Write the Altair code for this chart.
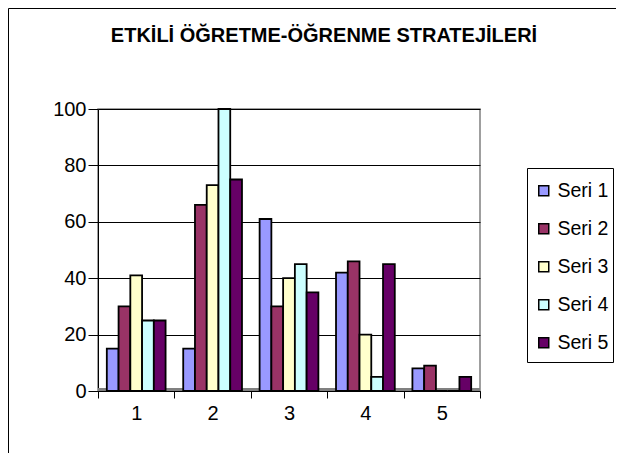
import altair as alt
import pandas as pd

categories = ["1", "2", "3", "4", "5"]
series_names = ["Seri 1", "Seri 2", "Seri 3", "Seri 4", "Seri 5"]
seri1 = [15, 15, 61, 42, 8]
seri2 = [30, 66, 30, 46, 9]
seri3 = [41, 73, 40, 20, 0]
seri4 = [25, 100, 45, 5, 0]
seri5 = [25, 75, 35, 45, 5]
colors = ["#9999FF", "#993366", "#FFFFCC", "#CCFFFF", "#660066"]
title_text = "ETKİLİ ÖĞRETME-ÖĞRENME STRATEJİLERİ"

rows = []
for name, vals in zip(series_names, [seri1, seri2, seri3, seri4, seri5]):
    for c, v in zip(categories, vals):
        rows.append({"Kategori": c, "Seri": name, "Deger": v})
df = pd.DataFrame(rows)

W, H = 382, 282
FONT = "Liberation Sans"

bars = alt.Chart(df).mark_bar(stroke="black", strokeWidth=1.8).encode(
    x=alt.X("Kategori:N", sort=categories,
            scale=alt.Scale(paddingInner=0, paddingOuter=0),
            axis=alt.Axis(title=None, labelAngle=0, labelFontSize=20, tickSize=7,
                          tickBand="extent", domainColor="black", tickColor="black",
                          labelPadding=5, labelColor="black")),
    xOffset=alt.XOffset("Seri:N", sort=series_names,
                        scale=alt.Scale(paddingInner=0, paddingOuter=0.75)),
    y=alt.Y("Deger:Q", scale=alt.Scale(domain=[0, 100], nice=False),
            axis=alt.Axis(title=None, values=[0, 20, 40, 60, 80, 100], labelFontSize=20,
                          tickSize=10, grid=True, gridColor="black", gridWidth=1,
                          domainColor="black", tickColor="black", labelPadding=2,
                          labelColor="black")),
    color=alt.Color("Seri:N", sort=series_names,
                    scale=alt.Scale(domain=series_names, range=colors),
                    legend=alt.Legend(title=None, orient="none", legendX=436, legendY=72,
                                      symbolType="square", symbolSize=100,
                                      symbolStrokeColor="black", symbolStrokeWidth=1.5,
                                      labelFontSize=19.5, labelColor="black",
                                      padding=0, rowPadding=17, labelOffset=4)),
)

one = pd.DataFrame({"a": [0]})
floor = alt.Chart(one).mark_rect(color="#808080").encode(
    x=alt.value(0), x2=alt.value(W), y=alt.value(H - 3), y2=alt.value(H)
)
frame = alt.Chart(one).mark_rect(filled=False, stroke="black", strokeWidth=1).encode(
    x=alt.value(-89.5), x2=alt.value(W + 300), y=alt.value(-100.5), y2=alt.value(H + 300)
)
legend_box = alt.Chart(one).mark_rect(filled=False, stroke="black", strokeWidth=1).encode(
    x=alt.value(429.5), x2=alt.value(515.5), y=alt.value(59.5), y2=alt.value(253.5)
)
title = alt.Chart(one).mark_text(
    text=title_text, fontSize=20, fontWeight="bold", font=FONT, color="black",
    align="center", baseline="middle"
).encode(x=alt.value(W / 2 + 35), y=alt.value(-73))

chart = alt.layer(frame, floor, legend_box, bars, title).properties(
    width=W, height=H,
    autosize=alt.AutoSizeParams(type="none"),
    padding={"left": 90, "top": 101, "right": 136, "bottom": 62},
).configure(font=FONT).configure_view(stroke="#808080", strokeWidth=1.5)

chart.save("out.html", embed_options={"renderer": "svg", "actions": False})
